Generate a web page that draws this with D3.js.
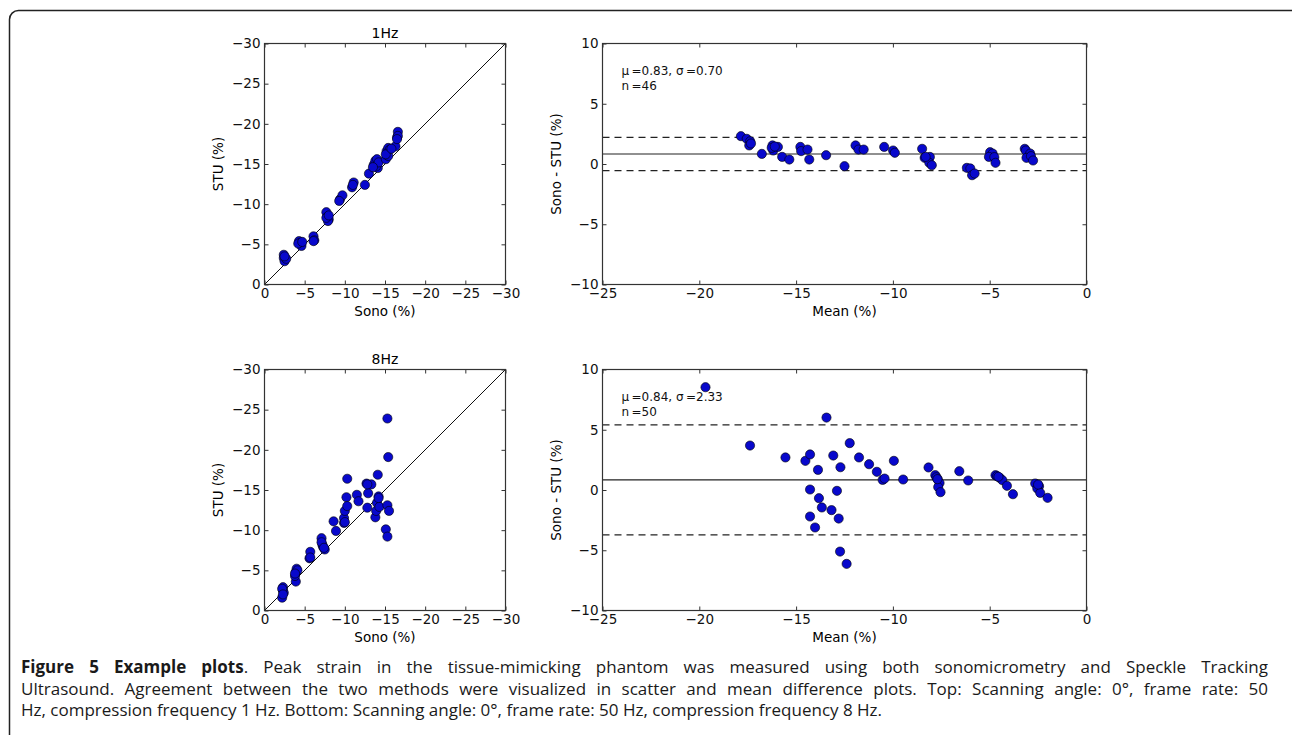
<!DOCTYPE html>
<html>
<head>
<meta charset="utf-8">
<script src="https://cdn.jsdelivr.net/npm/d3@7"></script>
<style>
  body { margin: 0; background: #fff; }
  #app { position: absolute; left: 0; top: 0; }
  .caption { position: absolute; left: 21px; top: 656px; width: 1247px;
    font-family: 'Open Sans', sans-serif; font-size: 17px; line-height: 21.5px; color: #1a1a1a; }
  .caption .just { text-align: justify; text-align-last: justify; }
  .caption b { font-weight: 700; }
</style>
</head>
<body>
<div id="app"></div>
<div class="caption">
  <div class="just"><b>Figure 5 Example plots</b>. Peak strain in the tissue-mimicking phantom was measured using both sonomicrometry and Speckle Tracking</div>
  <div class="just">Ultrasound. Agreement between the two methods were visualized in scatter and mean difference plots. Top: Scanning angle: 0°, frame rate: 50</div>
  <div>Hz, compression frequency 1 Hz. Bottom: Scanning angle: 0°, frame rate: 50 Hz, compression frequency 8 Hz.</div>
</div>
<script>
(function (d3) {

  'use strict'

  // tick labels
  const scatterTicks = [0, -5, -10, -15, -20, -25, -30]
  const meanTicks = [-25, -20, -15, -10, -5, 0]
  const diffTicks = [-10, -5, 0, 5, 10]

  const titles = ['1Hz', '8Hz']
  const muValues = [0.83, 0.84]
  const sigmaValues = [0.70, 2.33]
  const nValues = [46, 50]

  // 1 Hz scatter: sono vs STU
  const hz1Sono = [-2.4, -2.4, -2.5, -2.7, -2.5, -4.3, -4.5, -4.6, -4.2, -4.7,
    -6.1, -6.2, -6.1, -7.7, -7.8, -8.0, -7.9, -7.7, -8.0, -9.4,
    -9.7, -9.3, -10.9, -11.1, -11.0, -12.5, -13.0, -13.6, -13.8, -14.0,
    -14.1, -13.9, -14.2, -15.1, -15.2, -15.4, -15.6, -15.4, -15.1, -16.3,
    -16.5, -16.6, -16.6, -16.5, -15.8, -13.5]
  const hz1Stu = [-3.7, -3.3, -2.9, -3.2, -3.5, -5.4, -5.2, -4.8, -5.1, -5.3,
    -6.0, -5.5, -5.4, -9.0, -8.4, -8.1, -7.9, -8.3, -8.6, -10.6,
    -11.1, -10.4, -12.1, -12.7, -12.4, -12.4, -13.8, -14.9, -15.4, -15.6,
    -14.5, -14.7, -15.2, -15.6, -16.6, -17.0, -16.8, -16.0, -16.2, -17.2,
    -18.3, -19.0, -18.5, -18.1, -16.9, -14.6]

  // 1 Hz mean difference
  const hz1Mean = [-17.85, -17.55, -17.37, -17.42, -17.33, -16.77, -16.22, -16.18, -15.94, -16.26,
    -15.72, -15.35, -14.78, -14.74, -14.41, -14.32, -13.45, -12.50, -11.93, -11.78,
    -11.51, -10.45, -9.99, -9.90, -8.49, -8.36, -8.09, -8.12, -7.99, -8.31,
    -6.18, -6.00, -5.91, -5.78, -4.98, -4.85, -5.04, -4.76, -4.70, -3.19,
    -3.13, -2.91, -3.10, -2.87, -2.76, -16.10]
  const hz1Diff = [2.31, 2.09, 1.89, 1.54, 1.70, 0.84, 1.54, 1.12, 1.42, 1.34,
    0.59, 0.37, 1.42, 1.07, 1.20, 0.37, 0.73, -0.18, 1.54, 1.20,
    1.20, 1.42, 1.12, 0.93, 1.26, 0.51, 0.59, 0.10, -0.10, 0.59,
    -0.32, -0.37, -0.93, -0.79, 0.98, 0.87, 0.59, 0.57, 0.10, 1.26,
    1.12, 0.87, 0.51, 0.65, 0.29, 1.45]

  // 8 Hz scatter: sono vs STU
  const hz8Sono = [-2.2, -2.3, -2.3, -2.4, -2.2, -3.9, -3.8, -3.9, -4.0, -4.1,
    -5.6, -5.7, -7.1, -7.2, -7.3, -7.5, -7.1, -8.6, -8.9, -9.9,
    -9.9, -10.0, -10.2, -10.3, -10.3, -10.0, -11.5, -11.7, -12.7, -12.9,
    -12.8, -13.3, -13.8, -13.9, -14.1, -14.2, -14.0, -14.3, -15.3, -15.4,
    -15.3, -15.5, -15.1, -15.3, -3.8, -7.4, -14.2, -5.7, -12.8, -2.3]
  const hz8Stu = [-1.6, -2.5, -2.9, -2.2, -2.7, -3.6, -4.3, -4.8, -5.2, -5.0,
    -6.5, -7.3, -9.0, -8.2, -7.9, -7.6, -8.5, -11.1, -9.9, -10.9,
    -11.5, -12.4, -14.1, -16.4, -13.0, -11.0, -14.4, -13.6, -15.8, -14.6,
    -12.8, -15.7, -11.6, -12.4, -16.9, -14.2, -13.4, -12.9, -23.9, -19.1,
    -13.1, -12.4, -10.1, -9.2, -4.6, -7.8, -14.0, -6.6, -15.7, -2.0]

  // 8 Hz mean difference
  const hz8Mean = [-19.68, -17.38, -15.55, -14.52, -14.28, -13.87, -14.28, -13.82, -13.67, -14.28,
    -14.02, -13.43, -13.08, -12.71, -12.89, -13.17, -12.80, -12.73, -12.39, -12.23,
    -11.75, -11.23, -10.83, -10.53, -10.43, -9.95, -9.47, -8.16, -7.81, -7.75,
    -7.68, -7.59, -7.66, -7.54, -6.57, -6.11, -4.70, -4.62, -4.48, -4.35,
    -4.11, -3.80, -2.65, -2.45, -2.54, -2.39, -2.01, -7.70, -4.55, -2.50]
  const hz8Diff = [8.53, 3.69, 2.70, 2.42, 2.95, 1.67, 0.04, -0.68, -1.45, -2.20,
    -3.11, 6.01, 2.86, 1.89, -0.07, -1.67, -2.37, -5.11, -6.13, 3.89,
    2.70, 2.14, 1.51, 0.84, 0.95, 2.42, 0.87, 1.87, 1.23, 1.06,
    0.87, 0.59, 0.24, -0.18, 1.56, 0.79, 1.23, 1.15, 1.01, 0.82,
    0.35, -0.35, 0.54, 0.32, 0.12, -0.24, -0.65, 0.90, 1.10, 0.45]

  const width = 1292
  const height = 735
  const font = "'DejaVu Sans', sans-serif"
  const frameColor = '#333'

  const svg = d3.select('#app').append('svg')
    .attr('width', width)
    .attr('height', height)

  // figure border, runs off the right and bottom edges
  svg.append('rect')
    .attr('x', 9.5).attr('y', 10.5)
    .attr('width', 1300).attr('height', 760)
    .attr('rx', 9)
    .style('fill', 'none')
    .style('stroke', '#222')
    .style('stroke-width', 1.5)

  const fmt = d3.format('d')

  const drawPanel = function (p) {
    const g = svg.append('g').attr('transform', 'translate(' + p.left + ',' + p.top + ')')
    const xScale = d3.scaleLinear().domain(p.xDomain).range([0, p.w])
    const yScale = d3.scaleLinear().domain(p.yDomain).range([p.h, 0])

    if (p.extra) p.extra(g, xScale, yScale)

    g.selectAll('circle')
      .data(p.xs.map(function (x, i) { return [x, p.ys[i]] }))
      .enter()
      .append('circle')
      .attr('cx', function (d) { return xScale(d[0]) })
      .attr('cy', function (d) { return yScale(d[1]) })
      .attr('r', 4.6)
      .style('fill', '#0808cc')
      .style('stroke', '#000')
      .style('stroke-width', 0.6)

    // axes, ticks pointing inward on all sides
    const axes = [
      [d3.axisBottom(xScale).tickValues(p.xTicks).tickFormat(fmt), 'translate(0,' + p.h + ')'],
      [d3.axisLeft(yScale).tickValues(p.yTicks).tickFormat(fmt), null],
      [d3.axisTop(xScale).tickValues(p.xTicks).tickFormat(function () { return '' }), null],
      [d3.axisRight(yScale).tickValues(p.yTicks).tickFormat(function () { return '' }), 'translate(' + p.w + ',0)']
    ]
    axes.forEach(function (a) {
      const ax = g.append('g')
        .call(a[0].tickSize(-4).tickPadding(4))
      if (a[1]) ax.attr('transform', a[1])
      ax.select('.domain').remove()
      ax.selectAll('line').style('stroke', frameColor)
      ax.selectAll('text')
        .style('font-family', font)
        .style('font-size', '13.5px')
        .style('fill', '#111')
    })

    g.append('rect')
      .attr('width', p.w)
      .attr('height', p.h)
      .style('fill', 'none')
      .style('stroke', frameColor)
      .style('stroke-width', 1.2)

    if (p.title) {
      g.append('text')
        .attr('x', p.w / 2).attr('y', -6)
        .attr('text-anchor', 'middle')
        .style('font-family', font).style('font-size', '14px')
        .text(p.title)
    }
    g.append('text')
      .attr('x', p.w / 2).attr('y', p.h + 31)
      .attr('text-anchor', 'middle')
      .style('font-family', font).style('font-size', '13.5px')
      .text(p.xLabel)
    g.append('text')
      .attr('transform', 'rotate(-90)')
      .attr('x', -p.h / 2).attr('y', -42)
      .attr('text-anchor', 'middle')
      .style('font-family', font).style('font-size', '13.5px')
      .text(p.yLabel)
  }

  const identityLine = function (g, xScale, yScale) {
    g.append('line')
      .attr('x1', xScale(0)).attr('y1', yScale(0))
      .attr('x2', xScale(-30)).attr('y2', yScale(-30))
      .style('stroke', '#111')
      .style('stroke-width', 1)
  }

  const agreementLines = function (i) {
    return function (g, xScale, yScale) {
      const mu = muValues[i]
      const sd = sigmaValues[i]
      const levels = [mu, mu + 1.96 * sd, mu - 1.96 * sd]
      levels.forEach(function (v, k) {
        g.append('line')
          .attr('x1', 0).attr('x2', xScale.range()[1])
          .attr('y1', yScale(v)).attr('y2', yScale(v))
          .style('stroke', '#222')
          .style('stroke-width', 1.2)
          .style('stroke-dasharray', k === 0 ? null : '7,5')
      })
      const note = g.append('text')
        .attr('x', 19).attr('y', 31.5)
        .style('font-family', font).style('font-size', '12px')
        .style('fill', '#111')
      note.append('tspan').text('μ\u2009=' + mu.toFixed(2) + ', σ\u2009=' + sd.toFixed(2))
      note.append('tspan').attr('x', 19).attr('dy', 15).text('n\u2009=' + nValues[i])
    }
  }

  const rows = [43.5, 369.5]
  const scatterData = [[hz1Sono, hz1Stu], [hz8Sono, hz8Stu]]
  const diffData = [[hz1Mean, hz1Diff], [hz8Mean, hz8Diff]]

  rows.forEach(function (top, i) {
    drawPanel({
      left: 264.5, top: top, w: 241, h: 241,
      xDomain: [0, -30], yDomain: [0, -30],
      xTicks: scatterTicks, yTicks: scatterTicks,
      xs: scatterData[i][0], ys: scatterData[i][1],
      title: titles[i], xLabel: 'Sono (%)', yLabel: 'STU (%)',
      extra: identityLine
    })
    drawPanel({
      left: 602.5, top: top, w: 484, h: 241,
      xDomain: [-25, 0], yDomain: [-10, 10],
      xTicks: meanTicks, yTicks: diffTicks,
      xs: diffData[i][0], ys: diffData[i][1],
      xLabel: 'Mean (%)', yLabel: 'Sono - STU (%)',
      extra: agreementLines(i)
    })
  })

})(d3)
</script>
</body>
</html>
